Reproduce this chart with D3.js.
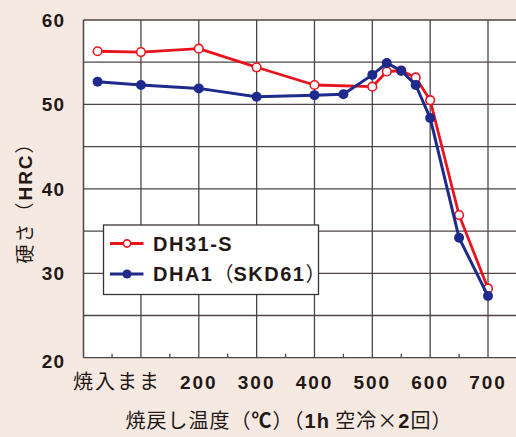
<!DOCTYPE html>
<html><head><meta charset="utf-8">
<script src="https://cdn.jsdelivr.net/npm/d3@7"></script>
<style>
html,body{margin:0;padding:0;background:#f6e9e1;}
svg{display:block;}
</style></head>
<body>
<script>
// ---- data ----
const temps = [25, 100, 200, 300, 400, 450, 500, 525, 550, 575, 600, 650, 700];
const dh31s = [56.3, 56.2, 56.6, 54.4, 52.3, null, 52.1, 53.9, 54.0, 53.2, 50.5, 36.9, 28.2];
const dha1  = [52.7, 52.3, 51.9, 50.9, 51.1, 51.2, 53.5, 54.9, 54.0, 52.3, 48.4, 34.2, 27.3];
const seriesNames = ["DH31-S", "DHA1（SKD61）"];
const xTickValues = [25, 200, 300, 400, 500, 600, 700];
const xTickLabels = ["焼入まま", "200", "300", "400", "500", "600", "700"];
const yTicks = [20, 30, 40, 50, 60];

(function () {
const W = 516, H = 437;
const svg = d3.select("body").append("svg").attr("width", W).attr("height", H);
svg.append("rect").attr("width", W).attr("height", H).attr("fill", "#f6e9e1");

const pL = 83.5, pT = 20, pB = 357.7, pR = 546;
const x = d3.scaleLinear().domain([200, 700]).range([198.8, 488]);
const y = d3.scaleLinear().domain([20, 60]).range([pB, pT]);

svg.append("rect").attr("x", pL).attr("y", pT).attr("width", pR - pL).attr("height", pB - pT)
  .attr("fill", "#fff");

const gridColor = "#4d4545";
const vLines = d3.range(100, 800, 100);
svg.append("g").selectAll("line").data(vLines).join("line")
  .attr("x1", d => x(d)).attr("x2", d => x(d)).attr("y1", pT).attr("y2", pB)
  .attr("stroke", gridColor).attr("stroke-width", 1.3);
svg.append("g").selectAll("line").data(d3.range(20, 61, 5)).join("line")
  .attr("x1", pL).attr("x2", pR).attr("y1", d => y(d)).attr("y2", d => y(d))
  .attr("stroke", gridColor).attr("stroke-width", 1.3);
svg.append("line").attr("x1", pL).attr("x2", pL).attr("y1", pT).attr("y2", pB)
  .attr("stroke", gridColor).attr("stroke-width", 1.5);
svg.append("g").selectAll("line").data([50].concat(d3.range(150, 800, 100))).join("line")
  .attr("x1", d => x(d)).attr("x2", d => x(d)).attr("y1", pB).attr("y2", pB - 4)
  .attr("stroke", gridColor).attr("stroke-width", 1.3);

// y tick labels
svg.append("g").selectAll("text").data(yTicks).join("text")
  .attr("x", 65).attr("y", d => y(d) + (d === 20 ? 3 : 0)).attr("dy", "0.36em")
  .attr("text-anchor", "end")
  .attr("font-family", "Liberation Sans, Arial, sans-serif").attr("font-weight", "bold")
  .attr("font-size", 19).attr("letter-spacing", 1).attr("fill", "#231815")
  .text(d => d);

// x tick labels
svg.append("g").selectAll("text").data(xTickValues).join("text")
  .attr("x", (d, i) => i === 0 ? 73 : x(d)).attr("y", 382).attr("dy", "0.36em")
  .attr("text-anchor", (d, i) => i === 0 ? "start" : "middle")
  .attr("font-family", (d, i) => i === 0 ? "Noto Sans CJK JP, sans-serif" : "Liberation Sans, Arial, sans-serif")
  .attr("font-weight", (d, i) => i === 0 ? "normal" : "bold")
  .attr("font-size", (d, i) => i === 0 ? 20 : 19)
  .attr("letter-spacing", (d, i) => i === 0 ? 2 : 2)
  .attr("fill", "#231815")
  .text((d, i) => xTickLabels[i]);

// y title
const yt = svg.append("text").attr("transform", "translate(32,198) rotate(-90)")
  .attr("text-anchor", "middle").attr("fill", "#231815").attr("font-size", 19)
  .attr("letter-spacing", 2)
  .attr("font-family", "Noto Sans CJK JP, sans-serif");
yt.append("tspan").text("硬さ（");
yt.append("tspan").attr("font-weight", "bold").attr("font-family", "Liberation Sans, Arial, sans-serif").text("HRC");
yt.append("tspan").text("）");

// x title
const xt = svg.append("text").attr("x", 289).attr("y", 421).attr("dy", "0.36em")
  .attr("text-anchor", "middle").attr("fill", "#231815").attr("font-size", 20)
  .attr("letter-spacing", 1)
  .attr("font-family", "Noto Sans CJK JP, sans-serif");
xt.append("tspan").text("焼戻し温度（");
xt.append("tspan").attr("font-weight", "bold").text("℃");
xt.append("tspan").text("）（");
xt.append("tspan").attr("font-weight", "bold").attr("font-family", "Liberation Sans, Arial, sans-serif").text("1h");
xt.append("tspan").text(" 空冷×");
xt.append("tspan").attr("font-weight", "bold").attr("font-family", "Liberation Sans, Arial, sans-serif").text("2");
xt.append("tspan").text("回）");

const red = "#e8141e", blue = "#1e2a8c";
const line = d3.line().x(d => x(d[0])).y(d => y(d[1]));
const redPts = temps.map((t, i) => [t, dh31s[i]]).filter(d => d[1] != null);
const bluePts = temps.map((t, i) => [t, dha1[i]]);

svg.append("path").datum(redPts).attr("d", line).attr("fill", "none")
  .attr("stroke", red).attr("stroke-width", 2.8).attr("stroke-linejoin", "round");
svg.append("g").selectAll("circle").data(redPts).join("circle")
  .attr("cx", d => x(d[0])).attr("cy", d => y(d[1])).attr("r", 4.3)
  .attr("fill", "#fff").attr("stroke", red).attr("stroke-width", 1.6);

svg.append("path").datum(bluePts).attr("d", line).attr("fill", "none")
  .attr("stroke", blue).attr("stroke-width", 3).attr("stroke-linejoin", "round");
svg.append("g").selectAll("circle").data(bluePts).join("circle")
  .attr("cx", d => x(d[0])).attr("cy", d => y(d[1])).attr("r", 5)
  .attr("fill", blue);

// legend
const lg = svg.append("g");
lg.append("rect").attr("x", 103.5).attr("y", 225).attr("width", 215).attr("height", 69.5)
  .attr("fill", "#fff").attr("stroke", "#3a3333").attr("stroke-width", 1.3);
const rows = [{c: red, y: 243.5, open: true}, {c: blue, y: 274, open: false}];
rows.forEach(r => {
  lg.append("line").attr("x1", 110).attr("x2", 143.5).attr("y1", r.y).attr("y2", r.y)
    .attr("stroke", r.c).attr("stroke-width", 2.8);
  lg.append("circle").attr("cx", 127).attr("cy", r.y).attr("r", r.open ? 3.6 : 4.6)
    .attr("fill", r.open ? "#fff" : r.c).attr("stroke", r.open ? r.c : "none").attr("stroke-width", 1.6);
});
lg.append("text").attr("x", 153).attr("y", 243.5).attr("dy", "0.36em")
  .attr("font-family", "Liberation Sans, Arial, sans-serif").attr("font-weight", "bold")
  .attr("font-size", 20).attr("letter-spacing", 1.5).attr("fill", "#231815").text(seriesNames[0]);
const t2 = lg.append("text").attr("x", 153).attr("y", 274).attr("dy", "0.36em")
  .attr("font-weight", "bold").attr("font-size", 20).attr("fill", "#231815")
  .attr("font-family", "Liberation Sans, Arial, sans-serif");
t2.append("tspan").attr("letter-spacing", 1.5).text("DHA1");
t2.append("tspan").attr("font-family", "Noto Sans CJK JP, sans-serif").attr("font-weight", "normal").text("（");
t2.append("tspan").attr("letter-spacing", 1.5).text("SKD61");
t2.append("tspan").attr("font-family", "Noto Sans CJK JP, sans-serif").attr("font-weight", "normal").text("）");
})();
</script>
</body></html>
